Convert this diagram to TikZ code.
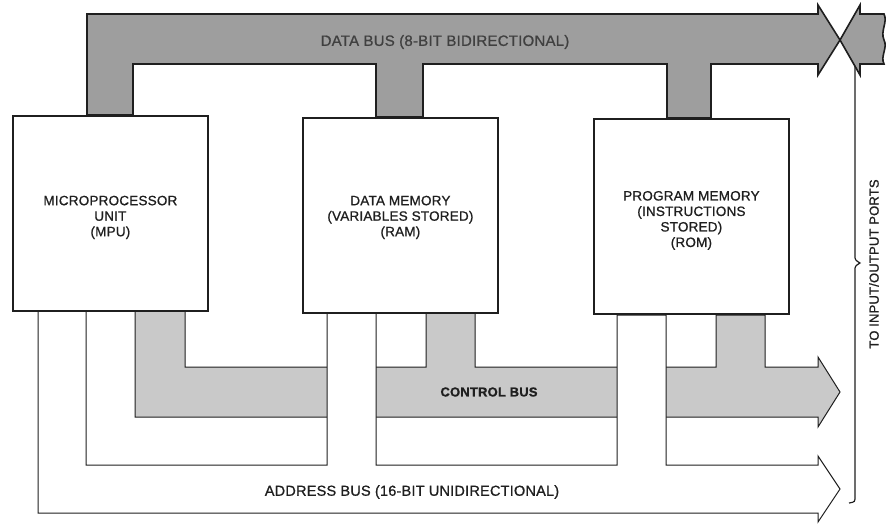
\documentclass[tikz,border=0pt]{standalone}
\usepackage{fontspec}
\setmainfont{Liberation Sans}
\newfontfamily\lblfont{Liberation Sans}[LetterSpace=1.5, FakeBold=0.9]
\usepackage{tikz}
\definecolor{databus}{gray}{0.62}
\definecolor{ctrlbus}{gray}{0.79}
\definecolor{ink}{gray}{0.12}
\tikzset{
  unit/.style={
    draw=ink, fill=white, line width=1.8pt,   % block outline
    minimum width=195pt, minimum height=195pt,
    anchor=north west, inner sep=0pt
  }
}
\tikzset{
  unit text/.style={align=center, font=\lblfont\fontsize{13.5}{15.5}\selectfont, text=ink}
}
\tikzset{
  bus line/.style={draw=ink, line width=1pt, line join=miter}
}
\tikzset{
  bus label/.style={font=\lblfont\fontsize{14.5}{16}\selectfont, text=ink}
}

\begin{document}
\begin{tikzpicture}[x=1pt, y=-1pt]
    \useasboundingbox (0,0) rectangle (893,524);

    % Head of every bus arrow
    \def\hx{818}
    \def\tx{840}

    % Data bus (shaded, drawn first)
    \draw[bus line, fill=databus, line width=1.6pt]
      (87,115) -- (87,14) -- (\hx,14) -- (\hx,5) -- (\tx,40) -- (\hx,75) -- (\hx,64)
      -- (711,64) -- (711,118) -- (667,118) -- (667,64)
      -- (423,64) -- (423,117) -- (376,117) -- (376,64)
      -- (133,64) -- (133,115) -- cycle;
    % Broken end beyond the crossing
    \draw[bus line, fill=databus, line width=1.6pt]
      (860,14) -- (860,5) -- (\tx,40) -- (860,75) -- (860,64) -- (884,64)
      .. controls (880,56) and (888,48) .. (884,40)
      .. controls (880,31) and (888,22) .. (884,14) -- cycle;
    \node[bus label, text=ink!85, font=\lblfont\fontsize{15}{16}\selectfont] (dlabel) at (445,42) {DATA BUS (8-BIT BIDIRECTIONAL)};

    % Control bus
    \draw[bus line, fill=ctrlbus]
      (135,310) -- (135,417) -- (\hx,417) -- (\hx,427) -- (\tx,392) -- (\hx,357) -- (\hx,367)
      -- (765,367) -- (765,315) -- (716,315) -- (716,367)
      -- (475,367) -- (475,312) -- (426,312) -- (426,367)
      -- (185,367) -- (185,310) -- cycle;
    \node[bus label, font=\lblfont\bfseries\fontsize{13}{16}\selectfont] (clabel) at (489,392) {CONTROL BUS};

    % Address bus (white, its legs pass over the control bus)
    \draw[bus line, fill=white]
      (38,310) -- (38,513) -- (\hx,513) -- (\hx,522) -- (\tx,489) -- (\hx,456) -- (\hx,465)
      -- (666,465) -- (666,315) -- (617,315) -- (617,465)
      -- (376,465) -- (376,312) -- (327,312) -- (327,465)
      -- (86,465) -- (86,310) -- cycle;
    \node[bus label] (alabel) at (412,492) {ADDRESS BUS (16-BIT UNIDIRECTIONAL)};

    % Blocks
    \node[unit] (mpu) at (12,115) {};
    \node[unit] (ram) at (302,117) {};
    \node[unit] (rom) at (593,118) {};
    \node[unit text] (mputext) at ([yshift=-4pt]mpu.center) {MICROPROCESSOR\\UNIT\\(MPU)};
    \node[unit text] (ramtext) at ([yshift=-2pt]ram.center) {DATA MEMORY\\(VARIABLES STORED)\\(RAM)};
    \node[unit text] (romtext) at ([yshift=-4pt]rom.center) {PROGRAM MEMORY\\(INSTRUCTIONS\\STORED)\\(ROM)};

    % Brace to the ports
    \draw[ink, line width=1.2pt]
      (855,66) -- (855,255) .. controls (855,260) .. (860,263)
      .. controls (855,266) .. (855,271) -- (855,496)
      .. controls (855,502) .. (849,503);
    \node[bus label, font=\lblfont\fontsize{13}{16}\selectfont, rotate=90] (ports) at (874,264) {TO INPUT/OUTPUT PORTS};
\end{tikzpicture}
\end{document}
